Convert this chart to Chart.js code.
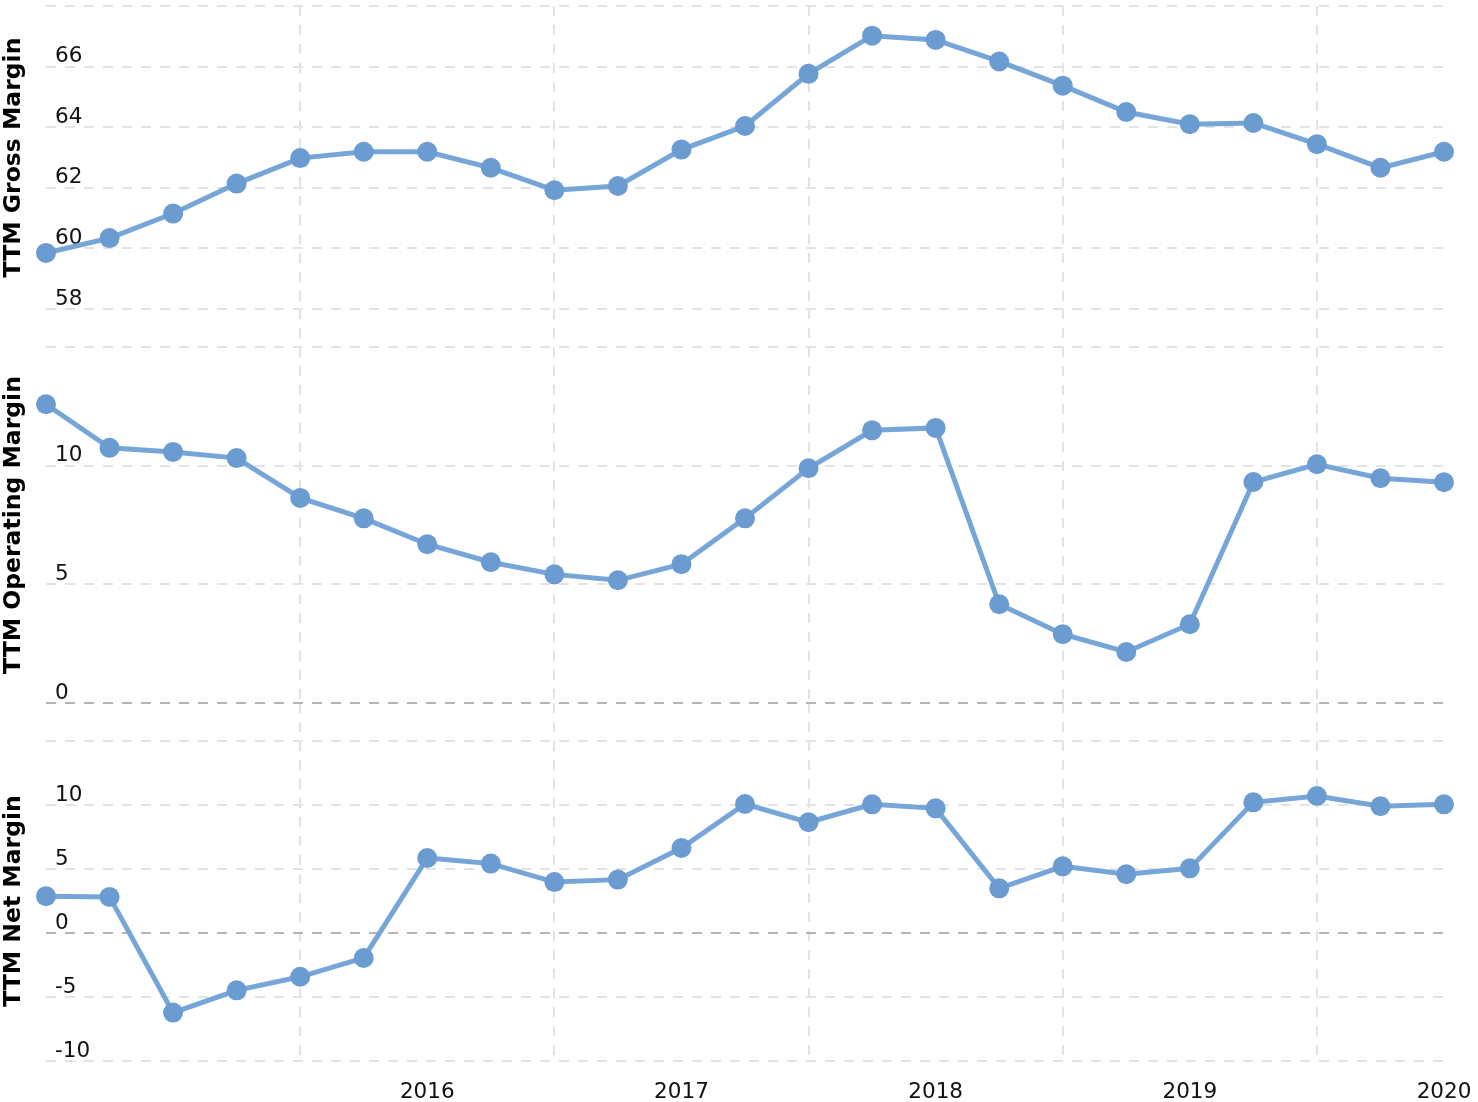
<!DOCTYPE html>
<html>
<head>
<meta charset="utf-8">
<script src="https://cdn.jsdelivr.net/npm/chart.js@4.4.1/dist/chart.umd.min.js"></script>
<style>
  html, body { margin: 0; padding: 0; background: #ffffff; width: 1478px; height: 1102px; overflow: hidden; }
  .panel { position: absolute; left: 0; width: 1478px; }
  #w1 { top: 0px; height: 347px; }
  #w2 { top: 346px; height: 395px; }
  #w3 { top: 740px; height: 362px; }
</style>
</head>
<body>
<div class="panel" id="w1"><canvas id="c1"></canvas></div>
<div class="panel" id="w2"><canvas id="c2"></canvas></div>
<div class="panel" id="w3"><canvas id="c3"></canvas></div>
<script>
// ---- data (quarter ends) ----
const quarters = [
  '2014-06-30','2014-09-30','2014-12-31',
  '2015-03-31','2015-06-30','2015-09-30','2015-12-31',
  '2016-03-31','2016-06-30','2016-09-30','2016-12-31',
  '2017-03-31','2017-06-30','2017-09-30','2017-12-31',
  '2018-03-31','2018-06-30','2018-09-30','2018-12-31',
  '2019-03-31','2019-06-30','2019-09-30','2019-12-31'
];
const grossMargin = [59.85, 60.34, 61.15, 62.14, 62.98, 63.19, 63.19, 62.66, 61.92, 62.06, 63.26, 64.04,
  65.76, 67.02, 66.88, 66.17, 65.37, 64.50, 64.10, 64.14, 63.44, 62.66, 63.19];
const operatingMargin = [12.59, 10.75, 10.58, 10.32, 8.64, 7.78, 6.69, 5.93, 5.42, 5.17, 5.85, 7.78,
  9.89, 11.49, 11.59, 4.16, 2.90, 2.15, 3.32, 9.31, 10.06, 9.47, 9.30];
const netMargin = [2.88, 2.82, -6.22, -4.48, -3.42, -1.95, 5.86, 5.42, 3.98, 4.17, 6.64, 10.08,
  8.65, 10.05, 9.74, 3.49, 5.21, 4.59, 5.05, 10.21, 10.70, 9.90, 10.05];

// x axis: year labels sit at year-end quarters, vertical grid lines at mid-year quarters
const yearTickQuarters = ['2015-12-31','2016-12-31','2017-12-31','2018-12-31','2019-12-31'];
const yearTickLabels   = ['2016','2017','2018','2019','2020'];
const gridQuarters     = ['2015-06-30','2016-06-30','2017-06-30','2018-06-30','2019-06-30'];

// y axis ticks per panel (top tick drawn without label)
const grossTicks = [58, 60, 62, 64, 66, 68];
const operatingTicks = [0, 5, 10, 15];
const netTicks = [-10, -5, 0, 5, 10, 15];

const titles = ['TTM Gross Margin', 'TTM Operating Margin', 'TTM Net Margin'];

// ---- styles ----
const FONT = "'DejaVu Sans', Verdana, sans-serif";
const LINE = '#76a5d8';
const DOT = '#6a9cd1';
const GRID = '#e3e3e3';
const ZERO = '#b4b4b4';
const DASH = [10, 9];
const AXIS_W = 46;

function makePanel(canvasId, values, yTicks, title, showX, pad, gapBelow, xAxisH) {
  const yMin = yTicks[0], yMax = yTicks[yTicks.length - 1];
  return new Chart(document.getElementById(canvasId), {
    type: 'line',
    data: {
      labels: quarters,
      datasets: [{
        data: values,
        borderColor: LINE,
        backgroundColor: DOT,
        borderWidth: 5,
        pointRadius: 10,
        pointBackgroundColor: DOT,
        pointBorderWidth: 0,
        tension: 0,
        fill: false,
        clip: false
      }]
    },
    options: {
      responsive: true,
      maintainAspectRatio: false,
      animation: false,
      events: [],
      layout: { padding: pad, autoPadding: false },
      plugins: { legend: { display: false }, tooltip: { enabled: false } },
      scales: {
        x: {
          type: 'category',
          offset: false,
          border: { display: false, dash: DASH },
          afterFit: (s) => { s.paddingLeft = 0; s.paddingRight = 0; s.height = xAxisH; },
          grid: {
            color: (c) => (c.tick && gridQuarters.includes(quarters[c.index])) ? GRID : 'rgba(0,0,0,0)',
            lineWidth: 2,
            tickBorderDash: DASH,
            drawTicks: gapBelow > 0,
            tickLength: gapBelow
          },
          ticks: {
            display: showX,
            autoSkip: false,
            maxRotation: 0,
            minRotation: 0,
            padding: 19,
            color: '#111',
            font: { family: FONT, size: 21.5 },
            callback: function (v, i) {
              const k = yearTickQuarters.indexOf(quarters[i]);
              return k >= 0 ? yearTickLabels[k] : '';
            }
          }
        },
        y: {
          min: yMin,
          max: yMax,
          border: { display: false, dash: DASH },
          afterBuildTicks: (s) => { s.ticks = yTicks.map(v => ({ value: v })); },
          afterFit: (s) => { s.paddingTop = 0; s.paddingBottom = 0; s.width = AXIS_W; },
          grid: {
            color: (c) => (c.tick && c.tick.value === 0) ? ZERO : GRID,
            lineWidth: 2,
            drawTicks: false
          },
          ticks: {
            mirror: true,
            padding: 9,
            labelOffset: -10,
            color: '#111',
            font: { family: FONT, size: 21.5 },
            callback: (v) => (v === yMax ? '' : String(v))
          },
          title: {
            display: true,
            text: title,
            color: '#000',
            font: { family: FONT, size: 23.5, weight: 'bold' },
            padding: { top: 0, bottom: 0 }
          }
        }
      }
    }
  });
}

makePanel('c1', grossMargin, grossTicks, titles[0], false, { top: 6, right: 34, bottom: 0, left: 0 }, 38, 38);
makePanel('c2', operatingMargin, operatingTicks, titles[1], false, { top: 1, right: 34, bottom: 0, left: 0 }, 38, 38);
makePanel('c3', netMargin, netTicks, titles[2], true, { top: 1, right: 34, bottom: 0, left: 0 }, 0, 41);
</script>
</body>
</html>
